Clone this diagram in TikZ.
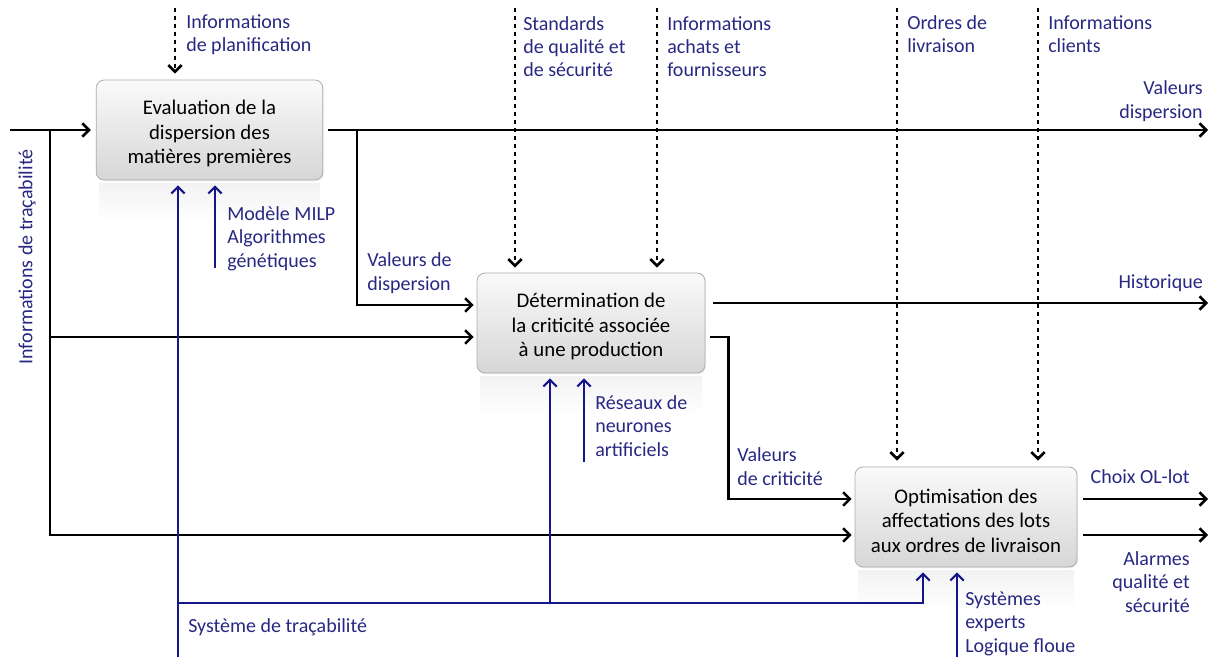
\documentclass[tikz,border=0pt]{standalone}
\usepackage{fontspec}
\setmainfont{Carlito}
\usetikzlibrary{arrows.meta,shadows}
\definecolor{lblc}{RGB}{40,40,130}
\definecolor{mechc}{RGB}{22,22,140}
\begin{document}
\begin{tikzpicture}[x=0.75pt,y=-0.75pt,
  box/.style={draw=gray!65, line width=0.6pt, rounded corners=6pt,
    top color=gray!4, bottom color=gray!32, minimum height=75pt,
    align=center, inner sep=2pt, font=\fontsize{15.6}{18.5}\selectfont,
    drop shadow={opacity=0.12, shadow xshift=0.8pt, shadow yshift=-1pt}},
  refl/.style={top color=gray!10, bottom color=white, draw=none},
  lbl/.style={text=lblc, inner sep=0pt, font=\fontsize{15}{17.5}\selectfont},
  tip/.style={-{Straight Barb[length=5pt,width=10pt]}},
  flow/.style={draw=black, line width=1.9pt, tip},
  ctrl/.style={draw=black, line width=2pt, dash pattern=on 3pt off 3pt, tip},
  mech/.style={draw=mechc, line width=1.6pt, tip}]
\useasboundingbox (0,0) rectangle (1216,660);

% reflections
\fill[refl] (99,183) rectangle (320,222);
\fill[refl] (480,376) rectangle (702,415);
\fill[refl] (858,570) rectangle (1074,609);

% boxes
\node[box, minimum width=170pt] (b1) at (209.5,130) {\rule{0pt}{16.5pt}Evaluation de la\\dispersion des\\matières premières};
\node[box, minimum width=171pt] (b2) at (591,323) {\rule{0pt}{16.5pt}Détermination de\\la criticité associée\\à une production};
\node[box, minimum width=166.5pt] (b3) at (966,517) {\rule{0pt}{16.5pt}Optimisation des\\affectations des lots\\aux ordres de livraison};

% coordinates
\coordinate (tStart) at (10,130);
\coordinate (tJ) at (50,130);
\coordinate (j1) at (357,130);
\coordinate (out1) at (1208,130);
\coordinate (out2) at (1208,303);
\coordinate (out3) at (1208,499);
\coordinate (out4) at (1208,535);
\coordinate (c1) at (175,8);
\coordinate (c2) at (515,8);
\coordinate (c3) at (657,8);
\coordinate (c4) at (897,8);
\coordinate (c5) at (1038,8);
\coordinate (m0) at (178,657);
\coordinate (mj) at (178,603);
\coordinate (mj2) at (550,603);
\coordinate (m1) at (215,268);
\coordinate (m2) at (584,462);
\coordinate (m3) at (957,657);

% flows (inputs / outputs)
\draw[flow, shorten >=3.75pt] (tStart) -- (b1.west);
\draw[flow, shorten >=2.25pt] (tJ) |- ([shift={(0,14)}]b2.west);
\draw[flow, shorten >=2.25pt] (tJ) |- ([shift={(0,18)}]b3.west);
\draw[flow, shorten <=3.75pt] (b1.east) -- (out1);
\draw[flow, shorten >=2.25pt] (j1) |- ([shift={(0,-18)}]b2.west);
\draw[flow] ([shift={(8,-20)}]b2.east) -- (out2);
\draw[flow, shorten >=2.25pt] ([shift={(5,14)}]b2.east) -- ++(18,0) |- ([shift={(0,-18)}]b3.west);
\draw[flow] ([shift={(6,-18)}]b3.east) -- (out3);
\draw[flow] ([shift={(6,18)}]b3.east) -- (out4);

% controls
\draw[ctrl, shorten >=4.5pt] (c1) -- (c1 |- b1.north);
\draw[ctrl, shorten >=3.75pt] (c2) -- (c2 |- b2.north);
\draw[ctrl, shorten >=3.75pt] (c3) -- (c3 |- b2.north);
\draw[ctrl, shorten >=4.5pt] (c4) -- (c4 |- b3.north);
\draw[ctrl, shorten >=4.5pt] (c5) -- (c5 |- b3.north);

% mechanisms
\draw[mech, shorten >=3.75pt] (m0) -- (m0 |- b1.south);
\draw[mech, shorten >=3.75pt] (mj) -| ([shift={(-43,0)}]b3.south);
\draw[mech, shorten >=3.75pt] (mj2) -- (mj2 |- b2.south);
\draw[mech, shorten >=3.75pt] (m1) -- (m1 |- b1.south);
\draw[mech, shorten >=3.75pt] (m2) -- (m2 |- b2.south);
\draw[mech, shorten >=3.75pt] (m3) -- (m3 |- b3.south);

% labels (anchor = baseline of last line)
\node[lbl, align=left, anchor=base west] (l1) at (186,52) {Informations\\de planification};
\node[lbl, align=left, anchor=base west] (l2) at (523,77) {Standards\\de qualité et\\de sécurité};
\node[lbl, align=left, anchor=base west] (l3) at (667,77) {Informations\\achats et\\fournisseurs};
\node[lbl, align=left, anchor=base west] (l4) at (907,53) {Ordres de\\livraison};
\node[lbl, align=left, anchor=base west] (l5) at (1048,53) {Informations\\clients};
\node[lbl, align=right, anchor=base east] (l6) at (1203,118) {Valeurs\\dispersion};
\node[lbl, align=right, anchor=base east] (l7) at (1203,288) {Historique};
\node[lbl, align=left, anchor=base west] (l8) at (367,290) {Valeurs de\\dispersion};
\node[lbl, align=left, anchor=base west] (l9) at (227,267) {Modèle MILP\\Algorithmes\\génétiques};
\node[lbl, align=left, anchor=base west] (l10) at (595,456) {Réseaux de\\neurones\\artificiels};
\node[lbl, align=left, anchor=base west] (l11) at (737,485) {Valeurs\\de criticité};
\node[lbl, align=right, anchor=base east] (l12) at (1190,483) {Choix OL-lot};
\node[lbl, align=right, anchor=base east] (l13) at (1190,612) {Alarmes\\qualité et\\sécurité};
\node[lbl, align=left, anchor=base west] (l14) at (965,652) {Systèmes\\experts\\Logique floue};
\node[lbl, anchor=base west] (l15) at (188,632) {Système de traçabilité};
\node[lbl, rotate=90] (l16) at (27,257) {Informations de traçabilité};
\end{tikzpicture}
\end{document}
